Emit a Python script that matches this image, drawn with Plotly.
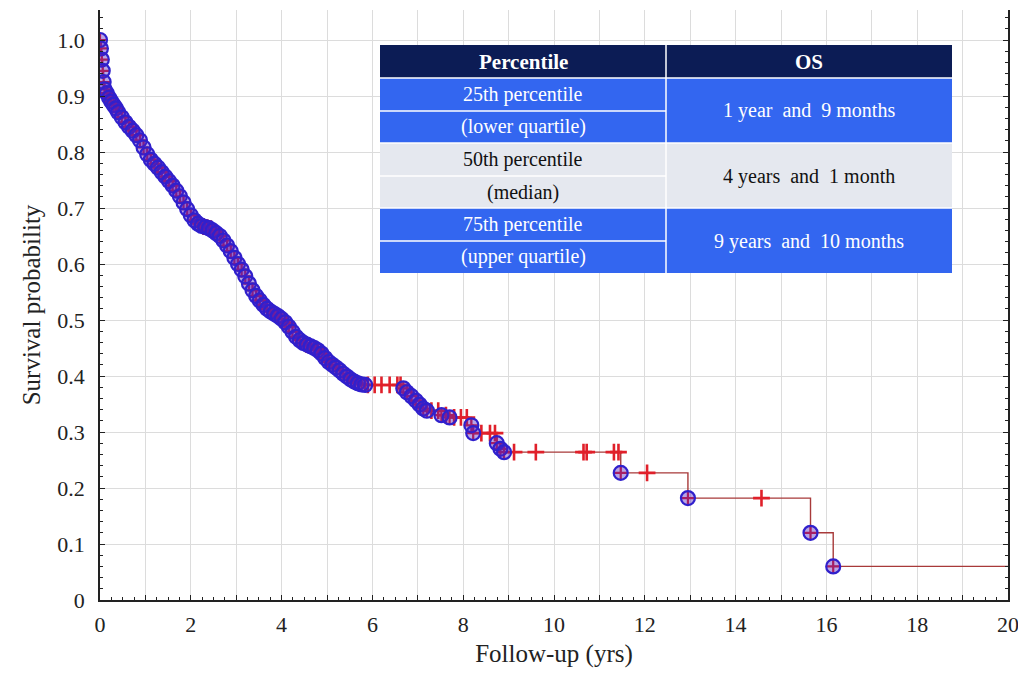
import plotly.graph_objects as go

# ---------------- data ----------------
event_t = [0.00, 0.02, 0.04, 0.06, 0.08, 0.10, 0.15, 0.20, 0.25, 0.30, 0.35, 0.40,
           0.48, 0.56, 0.64, 0.72, 0.80, 0.88, 0.96, 1.04, 1.12, 1.20, 1.28, 1.36,
           1.44, 1.52, 1.60, 1.68, 1.76, 1.84, 1.92, 2.00, 2.08, 2.16, 2.24, 2.32,
           2.40, 2.48, 2.56, 2.64, 2.72, 2.80, 2.88, 2.96, 3.04, 3.12, 3.20, 3.28,
           3.36, 3.44, 3.52, 3.60, 3.68, 3.76, 3.84, 3.92, 4.00, 4.08, 4.16, 4.24,
           4.32, 4.40, 4.48, 4.56, 4.64, 4.72, 4.80, 4.88, 4.96, 5.04, 5.12, 5.20,
           5.28, 5.36, 5.44, 5.52, 5.60, 5.68, 5.76, 5.84, 6.68, 6.76, 6.86, 6.96,
           7.04, 7.12, 7.20, 7.52, 7.70, 8.18, 8.22, 8.74, 8.82, 8.90, 11.47,
           12.95, 15.65, 16.15]
event_s = [1.000, 0.985, 0.965, 0.945, 0.925, 0.912, 0.905, 0.897, 0.890, 0.884, 0.878, 0.871,
           0.862, 0.853, 0.845, 0.838, 0.830, 0.821, 0.808, 0.796, 0.786, 0.779, 0.772, 0.764,
           0.756, 0.748, 0.740, 0.731, 0.721, 0.710, 0.698, 0.687, 0.678, 0.672, 0.668, 0.666,
           0.664, 0.660, 0.655, 0.650, 0.642, 0.633, 0.623, 0.611, 0.600, 0.590, 0.578, 0.565,
           0.553, 0.543, 0.535, 0.527, 0.520, 0.515, 0.511, 0.507, 0.502, 0.496, 0.488, 0.479,
           0.470, 0.464, 0.459, 0.456, 0.453, 0.450, 0.446, 0.440, 0.432, 0.425, 0.420, 0.415,
           0.410, 0.404, 0.399, 0.394, 0.390, 0.387, 0.385, 0.384, 0.378, 0.371, 0.364, 0.356,
           0.349, 0.342, 0.338, 0.330, 0.326, 0.312, 0.298, 0.280, 0.270, 0.264, 0.227,
           0.182, 0.120, 0.060]

cens_t = [2.28, 2.36, 2.44, 2.52, 3.90, 4.10, 4.55, 4.75, 5.00, 5.20, 5.45, 5.60,
          5.90, 6.05, 6.20, 6.38, 6.55, 6.62, 7.30, 7.45, 7.62, 7.80, 7.95, 8.08,
          8.40, 8.59, 8.70, 9.12, 9.60, 10.65, 10.72, 11.32, 11.42, 12.05, 14.57]
cens_s = [0.667, 0.665, 0.663, 0.658, 0.508, 0.494, 0.456, 0.448, 0.428, 0.415, 0.398, 0.390,
          0.384, 0.384, 0.384, 0.384, 0.384, 0.384, 0.338, 0.338, 0.330, 0.326, 0.326, 0.326,
          0.298, 0.298, 0.298, 0.264, 0.264, 0.264, 0.264, 0.264, 0.264, 0.227, 0.182]

end_t = 20.0
end_s = 0.060

x_ticks = list(range(0, 21))
x_ticktext = [str(v) if v % 2 == 0 else "" for v in x_ticks]
y_ticks = [0, 0.1, 0.2, 0.3, 0.4, 0.5, 0.6, 0.7, 0.8, 0.9, 1.0]
y_ticktext = ["0", "0.1", "0.2", "0.3", "0.4", "0.5", "0.6", "0.7", "0.8", "0.9", "1.0"]

table_header = ["Percentile", "OS"]
table_left = ["25th percentile", "(lower quartile)", "50th percentile", "(median)",
              "75th percentile", "(upper quartile)"]
table_right = ["1 year  and  9 months", "4 years  and  1 month", "9 years  and  10 months"]

# ---------------- figure ----------------
OFF = 8  # page body margin
W, H = 1026 - OFF, 679 - OFF
ML, MR, MT, MB = 92, 18, 2, 79
FONT = "Liberation Serif, Times New Roman, serif"

pts = sorted(list(zip(event_t, event_s)) + list(zip(cens_t, cens_s)))
line_t = [p[0] for p in pts] + [end_t]
line_s = [p[1] for p in pts] + [end_s]

RED = "#e0202a"
BLUEM = "#3020cc"

fig = go.Figure()
fig.add_trace(go.Scatter(x=line_t, y=line_s, mode="lines", line_shape="hv",
                         line=dict(color="#a83a3a", width=1.4), hoverinfo="skip",
                         showlegend=False))
fig.add_trace(go.Scatter(x=event_t, y=event_s, mode="markers", showlegend=False,
                         marker=dict(symbol="cross-thin-open", size=10, color=RED,
                                     line=dict(color=RED, width=2.2))))
fig.add_trace(go.Scatter(x=cens_t, y=cens_s, mode="markers", showlegend=False,
                         marker=dict(symbol="cross-thin-open", size=12, color=RED,
                                     line=dict(color=RED, width=2.6))))
fig.add_trace(go.Scatter(x=event_t, y=event_s, mode="markers", showlegend=False,
                         marker=dict(symbol="circle", size=14, color="rgba(80,30,190,0.40)",
                                     line=dict(color=BLUEM, width=2.2))))
# invisible trace to host tick-only overlay axis
fig.add_trace(go.Scatter(x=[0], y=[0], xaxis="x2", mode="markers",
                         marker=dict(opacity=0), showlegend=False, hoverinfo="skip"))

plot_w = W - ML - MR
plot_h = H - MT - MB


def px_x(p):
    return (p - OFF - ML) / plot_w


def px_y(p):
    return (H - MB - (p - OFF)) / plot_h


# table geometry (page pixels)
tx0, tmid, tx1 = 380, 666, 952
rows = [45, 78, 111, 143, 176, 208, 241, 273]
NAVY = "#0c1c55"
BLUE = "#3366f0"
GREY = "#e5e8ef"

shapes = []
annotations = []
shapes.append(dict(type="rect", xref="paper", yref="paper", x0=px_x(tx0), x1=px_x(tx1),
                   y0=px_y(rows[1]), y1=px_y(rows[0]), fillcolor=NAVY, line_width=0,
                   layer="above"))
row_colors = [BLUE, BLUE, GREY, GREY, BLUE, BLUE]
for i in range(6):
    shapes.append(dict(type="rect", xref="paper", yref="paper", x0=px_x(tx0), x1=px_x(tx1),
                       y0=px_y(rows[i + 2]), y1=px_y(rows[i + 1]), fillcolor=row_colors[i],
                       line_width=0, layer="above"))
for i in range(1, 7):
    x_end = tx1 if i % 2 == 1 else tmid
    shapes.append(dict(type="line", xref="paper", yref="paper", x0=px_x(tx0), x1=px_x(x_end),
                       y0=px_y(rows[i]), y1=px_y(rows[i]),
                       line=dict(color="white", width=1.5), layer="above"))
shapes.append(dict(type="line", xref="paper", yref="paper", x0=px_x(tmid), x1=px_x(tmid),
                   y0=px_y(rows[7]), y1=px_y(rows[0]),
                   line=dict(color="white", width=1.5), layer="above"))

cx_l = (tx0 + tmid) / 2
cx_r = (tmid + tx1) / 2
TSZ = 20


def ann(x, y, text, color, size=TSZ):
    return dict(x=px_x(x), y=px_y(y), xref="paper", yref="paper", text=text,
                showarrow=False, xanchor="center", yanchor="middle",
                font=dict(family=FONT, size=size, color=color))


annotations.append(ann(cx_l, (rows[0] + rows[1]) / 2, "<b>" + table_header[0] + "</b>", "white", 21))
annotations.append(ann(cx_r, (rows[0] + rows[1]) / 2, "<b>" + table_header[1] + "</b>", "white", 21))
for i, txt in enumerate(table_left):
    col = "#111111" if row_colors[i] == GREY else "white"
    annotations.append(ann(cx_l, (rows[i + 1] + rows[i + 2]) / 2, txt, col))
for j, txt in enumerate(table_right):
    col = "#111111" if j == 1 else "white"
    annotations.append(ann(cx_r, rows[2 * j + 2], txt.replace("  ", "&nbsp; "), col))

y_top = plot_h / 560.0

fig.update_layout(
    width=W, height=H,
    margin=dict(l=ML, r=MR, t=MT, b=MB),
    paper_bgcolor="white", plot_bgcolor="white",
    font=dict(family=FONT, size=22, color="#222222"),
    xaxis=dict(range=[0, 20], tickvals=x_ticks, ticktext=x_ticktext,
               showgrid=True, gridcolor="#dcdcdc", gridwidth=1,
               ticks="inside", ticklen=5, tickcolor="#222", tickwidth=1,
               ticklabelstandoff=4,
               showline=True, linecolor="#222", linewidth=1.5, mirror=False,
               zeroline=False,
               title=dict(text="Follow-up (yrs)", font=dict(family=FONT, size=25), standoff=8)),
    xaxis2=dict(range=[0, 20], overlaying="x", side="bottom", dtick=0.25, tick0=0,
                ticks="inside", ticklen=3, tickcolor="#222", showticklabels=False,
                showgrid=False, zeroline=False, showline=False),
    yaxis=dict(range=[0, y_top], tickvals=y_ticks, ticktext=y_ticktext,
               showgrid=True, gridcolor="#dcdcdc", gridwidth=1,
               ticks="inside", ticklen=5, tickcolor="#222",
               ticklabelstandoff=9,
               minor=dict(dtick=0.02, tick0=0, ticks="inside", ticklen=3, tickcolor="#222",
                          showgrid=False),
               showline=True, linecolor="#222", linewidth=1.5, mirror="ticks",
               zeroline=False,
               title=dict(text="Survival probability", font=dict(family=FONT, size=25), standoff=10)),
    shapes=shapes,
    annotations=annotations,
    showlegend=False,
)

fig.write_html("out.html")
